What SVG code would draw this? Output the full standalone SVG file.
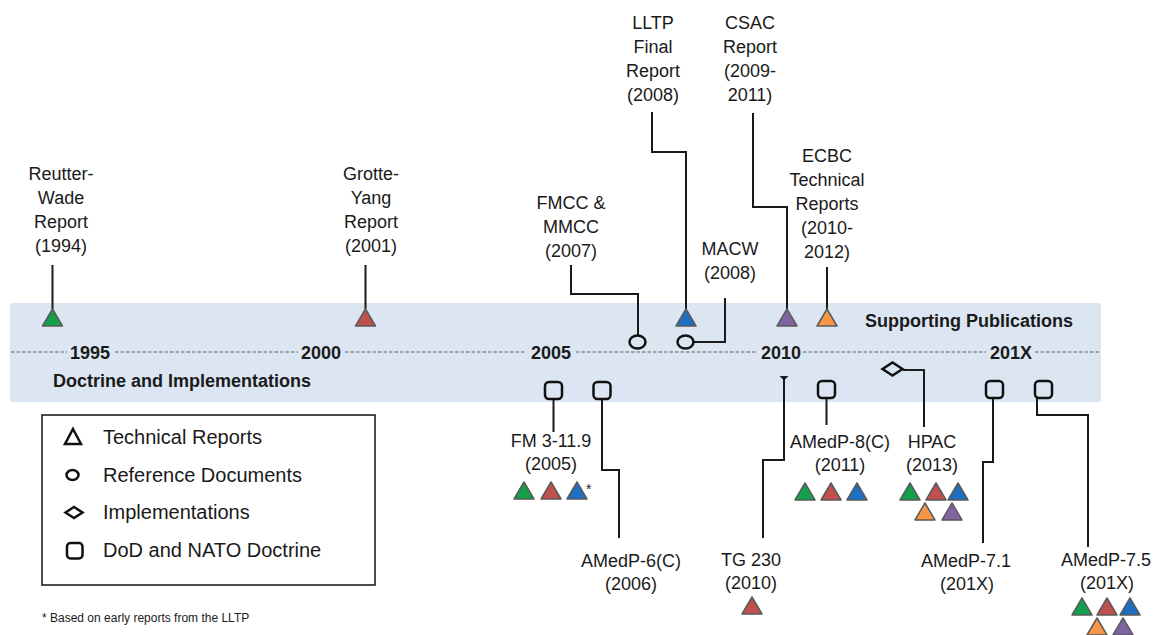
<svg xmlns="http://www.w3.org/2000/svg" width="1154" height="635" viewBox="0 0 1154 635">
<style>
text{font-family:"Liberation Sans",Arial,sans-serif;fill:#1a1a1a}
.lbl{font-size:18px;text-anchor:middle}
.yr{font-size:18px;font-weight:bold;text-anchor:middle}
.hd{font-size:18px;font-weight:bold}
.leg{font-size:20px}
.foot{font-size:12px}
.con{fill:none;stroke:#1a1a1a;stroke-width:2}
.sym{fill:none;stroke:#111;stroke-width:2.5}
.dash{stroke:#8a8a8a;stroke-width:1.5;stroke-dasharray:3.5 2}
.tri{stroke:#5a5a5a;stroke-width:1.5;stroke-linejoin:round}
.g{fill:#14a04a}.r{fill:#c0504d}.b{fill:#1c6fc3}.p{fill:#8064a2}.o{fill:#f79646}
</style>
<defs>
<path id="tri" d="M0,0 L10,17 L-10,17 Z"/>
</defs>
<rect x="10" y="303" width="1091" height="99" rx="2" fill="#dce6f2"/>
<g id="axis">
<line class="dash" x1="11" y1="352" x2="67" y2="352"/>
<line class="dash" x1="115" y1="352" x2="298" y2="352"/>
<line class="dash" x1="345" y1="352" x2="526" y2="352"/>
<line class="dash" x1="576" y1="352" x2="757" y2="352"/>
<line class="dash" x1="803" y1="352" x2="986" y2="352"/>
<line class="dash" x1="1035" y1="352" x2="1099" y2="352"/>
<text class="yr" x="90" y="359">1995</text>
<text class="yr" x="321" y="359">2000</text>
<text class="yr" x="551" y="359">2005</text>
<text class="yr" x="781" y="359">2010</text>
<text class="yr" x="1011" y="359">201X</text>
<text class="hd" x="865" y="327">Supporting Publications</text>
<text class="hd" x="53" y="387">Doctrine and Implementations</text>
</g>
<g id="connectors">
<path class="con" d="M52.5,265 V309"/>
<path class="con" d="M365.5,265 V309"/>
<path class="con" d="M652,112 V152 H686 V309"/>
<path class="con" d="M753,113 V207 H787 V309"/>
<path class="con" d="M827,267 V309"/>
<path class="con" d="M571,265 V294 H638 V336"/>
<path class="con" d="M725,298 V342 H693"/>
<path class="con" d="M553.5,399 V432"/>
<path class="con" d="M602,399 V470 H619 V538"/>
<path class="con" d="M784,378 V460 H763 V538"/>
<path class="con" d="M826.5,398 V425"/>
<path class="con" d="M903,370 H924 V427"/>
<path class="con" d="M993,398 V462 H983 V543"/>
<path class="con" d="M1037,398 V415 H1088 V547"/>
<path d="M779.5,376 H788.5 L784,380.5 Z" fill="#1a1a1a"/>
</g>
<g id="reutter-wade">
<text class="lbl" x="61" y="180">Reutter-</text>
<text class="lbl" x="61" y="204">Wade</text>
<text class="lbl" x="61" y="228">Report</text>
<text class="lbl" x="61" y="252">(1994)</text>
<use href="#tri" x="52.5" y="309" class="tri g"/>
</g>
<g id="grotte-yang">
<text class="lbl" x="371" y="180">Grotte-</text>
<text class="lbl" x="371" y="204">Yang</text>
<text class="lbl" x="371" y="228">Report</text>
<text class="lbl" x="371" y="252">(2001)</text>
<use href="#tri" x="365.5" y="309" class="tri r"/>
</g>
<g id="lltp">
<text class="lbl" x="653" y="29">LLTP</text>
<text class="lbl" x="653" y="53">Final</text>
<text class="lbl" x="653" y="77">Report</text>
<text class="lbl" x="653" y="101">(2008)</text>
<use href="#tri" x="686" y="309" class="tri b"/>
</g>
<g id="csac">
<text class="lbl" x="750" y="29">CSAC</text>
<text class="lbl" x="750" y="53">Report</text>
<text class="lbl" x="750" y="77">(2009-</text>
<text class="lbl" x="750" y="101">2011)</text>
<use href="#tri" x="787" y="309" class="tri p"/>
</g>
<g id="ecbc">
<text class="lbl" x="827" y="162">ECBC</text>
<text class="lbl" x="827" y="186">Technical</text>
<text class="lbl" x="827" y="210">Reports</text>
<text class="lbl" x="827" y="234">(2010-</text>
<text class="lbl" x="827" y="258">2012)</text>
<use href="#tri" x="827" y="309" class="tri o"/>
</g>
<g id="fmcc">
<text class="lbl" x="571" y="209">FMCC &amp;</text>
<text class="lbl" x="571" y="233">MMCC</text>
<text class="lbl" x="571" y="257">(2007)</text>
<ellipse class="sym" cx="637.5" cy="342" rx="8" ry="6.5"/>
</g>
<g id="macw">
<text class="lbl" x="730" y="255">MACW</text>
<text class="lbl" x="730" y="279">(2008)</text>
<ellipse class="sym" cx="685.5" cy="342" rx="8" ry="6.5"/>
</g>
<g id="fm3-11-9">
<rect class="sym" x="545" y="382" width="17" height="17" rx="4"/>
<text class="lbl" x="551" y="447">FM 3-11.9</text>
<text class="lbl" x="551" y="470">(2005)</text>
<use href="#tri" x="524" y="482" class="tri g"/>
<use href="#tri" x="551" y="482" class="tri r"/>
<use href="#tri" x="577" y="482" class="tri b"/>
<text x="586" y="494" style="font-size:14px">*</text>
</g>
<g id="amedp-6c">
<rect class="sym" x="593.5" y="382" width="17" height="17" rx="4"/>
<text class="lbl" x="631" y="567">AMedP-6(C)</text>
<text class="lbl" x="631" y="590">(2006)</text>
</g>
<g id="tg230">
<text class="lbl" x="751" y="566">TG 230</text>
<text class="lbl" x="751" y="589">(2010)</text>
<use href="#tri" x="752" y="597" class="tri r"/>
</g>
<g id="amedp-8c">
<rect class="sym" x="818" y="381" width="17" height="17" rx="4"/>
<text class="lbl" x="840" y="448">AMedP-8(C)</text>
<text class="lbl" x="840" y="471">(2011)</text>
<use href="#tri" x="805" y="483" class="tri g"/>
<use href="#tri" x="831" y="483" class="tri r"/>
<use href="#tri" x="857" y="483" class="tri b"/>
</g>
<g id="hpac">
<path class="sym" d="M882.5,369 L892.5,362.5 L902.5,369 L892.5,375.5 Z" stroke-width="2.3"/>
<text class="lbl" x="932" y="448">HPAC</text>
<text class="lbl" x="932" y="471">(2013)</text>
<use href="#tri" x="910" y="483" class="tri g"/>
<use href="#tri" x="936" y="483" class="tri r"/>
<use href="#tri" x="958" y="483" class="tri b"/>
<use href="#tri" x="925" y="503" class="tri o"/>
<use href="#tri" x="952" y="503" class="tri p"/>
</g>
<g id="amedp-7-1">
<rect class="sym" x="986" y="381" width="17" height="17" rx="4"/>
<text class="lbl" x="966" y="567">AMedP-7.1</text>
<text class="lbl" x="967" y="590">(201X)</text>
</g>
<g id="amedp-7-5">
<rect class="sym" x="1035" y="381" width="17" height="17" rx="4"/>
<text class="lbl" x="1106" y="566">AMedP-7.5</text>
<text class="lbl" x="1107" y="589">(201X)</text>
<use href="#tri" x="1082" y="598" class="tri g"/>
<use href="#tri" x="1107" y="598" class="tri r"/>
<use href="#tri" x="1130" y="598" class="tri b"/>
<use href="#tri" x="1097" y="618" class="tri o"/>
<use href="#tri" x="1123" y="618" class="tri p"/>
</g>
<g id="legend">
<rect x="42" y="415" width="333" height="170" fill="#fff" stroke="#111" stroke-width="1.5"/>
<path class="sym" d="M73,429 L81,444 L65,444 Z"/>
<ellipse class="sym" cx="72.5" cy="475" rx="6" ry="5"/>
<path class="sym" d="M65.5,512.5 L74,507 L82.5,512.5 L74,518 Z"/>
<rect class="sym" x="67" y="543" width="15.5" height="15.5" rx="3.5"/>
<text class="leg" x="103" y="444">Technical Reports</text>
<text class="leg" x="103" y="481.5">Reference Documents</text>
<text class="leg" x="103" y="519">Implementations</text>
<text class="leg" x="103" y="556.5">DoD and NATO Doctrine</text>
</g>
<text class="foot" x="42" y="622">* Based on early reports from the LLTP</text>
</svg>
